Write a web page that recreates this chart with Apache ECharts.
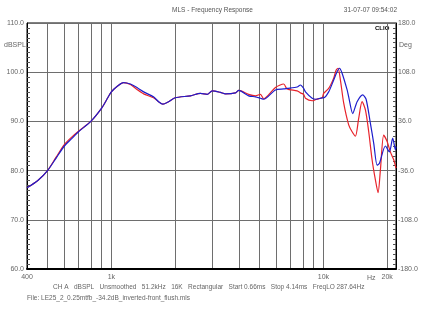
<!DOCTYPE html>
<html>
<head>
<meta charset="utf-8">
<script src="https://cdn.jsdelivr.net/npm/echarts@6/dist/echarts.min.js"></script>
<style>
  html, body { margin: 0; padding: 0; background: #fff; }
  #chart { width: 425px; height: 319px; }
</style>
</head>
<body>
<div id="chart"></div>
<script>
  // frequency grid and labels (Hz)
  const gridHz = [500, 600, 700, 800, 900, 1000, 2000, 3000, 4000, 5000, 6000, 7000, 8000, 9000, 10000, 20000];
  const labelHz = [400, 1000, 10000, 20000];
  const labelText = ['400', '1k', '10k', '20k'];

  // red trace (dBSPL vs Hz)
  const redHz = [400, 450, 500, 550, 600, 650, 700, 800, 900, 950, 1000, 1070, 1140, 1230, 1330, 1420, 1580, 1670, 1750, 1860,
    2000, 2360, 2630, 2830, 2990, 3270, 3450, 3850, 3990, 4440, 4780, 5050, 5230, 5940, 6500, 6740, 7520, 7790, 8070, 8230,
    8850, 9270, 9860, 10030, 10590, 11180, 11480, 11730, 12030, 12470, 13160, 13660, 14160, 14670, 15220, 15790, 16360,
    16970, 17590, 18110, 18570, 19250, 19980, 20700, 21460, 22000];
  const redDb = [76.5, 78.0, 80.0, 82.8, 85.3, 86.8, 88.0, 90.0, 92.7, 94.4, 96.0, 97.2, 97.9, 97.5, 96.4, 95.6, 94.8, 94.0, 93.5, 94.0,
    94.8, 95.2, 95.7, 95.5, 96.2, 95.9, 95.6, 95.8, 96.3, 95.5, 95.2, 95.5, 94.6, 96.9, 97.6, 96.6, 96.2, 95.8, 95.5, 94.7,
    94.2, 94.5, 94.8, 95.7, 96.7, 98.8, 100.4, 100.8, 98.4, 93.7, 89.3, 87.9, 87.0, 90.6, 94.0, 92.3, 87.9,
    82.2, 78.1, 75.5, 80.1, 87.2, 85.9, 83.8, 82.2, 80.5];

  // blue trace (dBSPL vs Hz)
  const blueHz = [400, 450, 500, 550, 600, 650, 700, 800, 900, 950, 1000, 1070, 1140, 1230, 1330, 1420, 1580, 1670, 1750, 1860,
    2000, 2360, 2630, 2830, 2990, 3270, 3450, 3850, 3990, 4440, 4780, 5050, 5230, 5940, 6500, 6740, 7520, 7790, 8070, 8230,
    8850, 9270, 9860, 10030, 10590, 11180, 11600, 11900, 12250, 12940, 13160, 13750, 14420, 15320, 15900, 16660, 17280,
    17920, 18380, 19610, 20480, 21230, 21860, 22000];
  const blueDb = [76.5, 78.0, 80.0, 82.6, 85.0, 86.5, 87.9, 90.0, 92.7, 94.4, 96.0, 97.2, 97.9, 97.6, 96.8, 96.0, 95.0, 94.0, 93.5, 94.0,
    94.8, 95.2, 95.7, 95.5, 96.2, 95.9, 95.6, 95.8, 96.3, 95.2, 95.0, 94.7, 94.5, 96.4, 96.6, 96.7, 97.0, 97.4, 96.7, 96.0,
    94.7, 94.5, 94.8, 94.8, 96.0, 98.4, 100.1, 100.8, 99.8, 96.4, 95.0, 91.6, 94.0, 95.4, 94.5, 89.6, 85.5,
    81.1, 81.5, 85.0, 83.8, 86.6, 84.2, 84.9];

  const lg = (v) => Math.log10(v);
  const toPairs = (hz, db) => hz.map((f, i) => [lg(f), db[i]]);

  const font = 'Liberation Sans, Arial, sans-serif';
  const textGrey = '#666';

  const chart = echarts.init(document.getElementById('chart'));

  const option = {
    animation: false,
    grid: {
      left: 27,
      right: 29,
      top: 23,
      bottom: 50,
      show: true,
      borderColor: '#000',
      borderWidth: 1,
    },
    xAxis: {
      type: 'value',
      min: lg(400),
      max: lg(22000),
      axisLine: { onZero: false, lineStyle: { color: '#000', width: 2 } },
      axisTick: { show: false, customValues: gridHz.map(lg) },
      splitLine: { show: true, lineStyle: { color: '#6e6e6e', width: 1 } },
      axisLabel: {
        customValues: labelHz.map(lg),
        color: textGrey,
        fontSize: 7,
        fontFamily: font,
        margin: 5,
        formatter: (v) => {
          const i = labelHz.findIndex((f) => Math.abs(lg(f) - v) < 1e-6);
          return i >= 0 ? labelText[i] : '';
        },
      },
    },
    yAxis: [
      {
        type: 'value',
        position: 'left',
        min: 60,
        max: 110,
        interval: 10,
        axisLine: { show: true, lineStyle: { color: '#000' } },
        axisTick: { show: false, inside: true },
        minorTick: { show: true, splitNumber: 10, length: 3, lineStyle: { color: '#555' } },
        splitLine: { show: true, lineStyle: { color: '#6e6e6e', width: 1 } },
        axisLabel: {
          color: textGrey,
          fontSize: 7,
          fontFamily: font,
          margin: 3,
          formatter: (v) => v.toFixed(1),
        },
      },
      {
        type: 'value',
        position: 'right',
        min: -180,
        max: 180,
        interval: 72,
        axisLine: { show: true, lineStyle: { color: '#000' } },
        axisTick: { show: false, inside: true },
        minorTick: { show: true, splitNumber: 10, length: 3, lineStyle: { color: '#555' } },
        splitLine: { show: false },
        axisLabel: {
          color: textGrey,
          fontSize: 7,
          fontFamily: font,
          margin: 2,
          formatter: (v) => v.toFixed(1),
        },
      },
    ],
    series: [
      {
        name: 'red',
        type: 'line',
        data: toPairs(redHz, redDb),
        showSymbol: false,
        smooth: 0.25,
        lineStyle: { color: '#e8232b', width: 1.2 },
        z: 3,
      },
      {
        name: 'blue',
        type: 'line',
        data: toPairs(blueHz, blueDb),
        showSymbol: false,
        smooth: 0.25,
        lineStyle: { color: '#1d1dcc', width: 1.2 },
        z: 4,
      },
    ],
    graphic: [
      { type: 'text', left: 'center', top: 7, style: { text: 'MLS - Frequency Response', fill: '#555', font: '6.5px ' + font } },
      { type: 'text', right: 28, top: 7, style: { text: '31-07-07 09:54:02', fill: '#555', font: '6.5px ' + font } },
      { type: 'text', left: 375, top: 25, style: { text: 'CLIO', fill: '#000', font: 'bold 6px ' + font } },
      { type: 'text', left: 4, top: 42, style: { text: 'dBSPL', fill: textGrey, font: '7px ' + font } },
      { type: 'text', left: 399, top: 42, style: { text: 'Deg', fill: textGrey, font: '7px ' + font } },
      { type: 'text', left: 367, top: 275, style: { text: 'Hz', fill: textGrey, font: '7px ' + font } },
      {
        type: 'text', left: 53, top: 284,
        style: {
          text: 'CH A   dBSPL   Unsmoothed   51.2kHz   16K   Rectangular   Start 0.66ms   Stop 4.14ms   FreqLO 287.64Hz',
          fill: textGrey, font: '6.5px ' + font,
        },
      },
      {
        type: 'text', left: 27, top: 295,
        style: { text: 'File: LE25_2_0.25mtfb_-34.2dB_inverted-front_flush.mls', fill: textGrey, font: '6.5px ' + font },
      },
    ],
  };

  chart.setOption(option);
</script>
</body>
</html>
